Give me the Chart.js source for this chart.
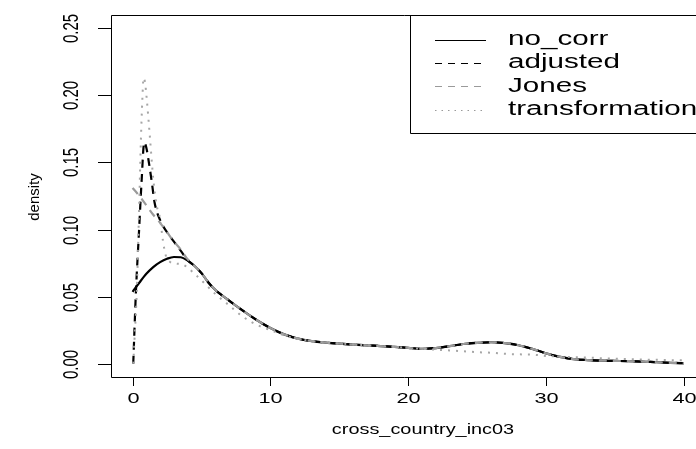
<!DOCTYPE html>
<html>
<head>
<meta charset="utf-8">
<script src="https://cdn.jsdelivr.net/npm/chart.js@4"></script>
<style>
  html, body { margin: 0; padding: 0; background: #fff; }
  #wrap { width: 696px; height: 449px; }
</style>
</head>
<body>
<div id="wrap"><canvas id="myChart"></canvas></div>
<script>
// no_corr
const xGrid = [0, 0.5, 1, 1.5, 2, 2.5, 3, 3.5, 4, 4.5, 5, 5.5, 6, 7, 8, 9, 10, 11, 12, 13, 14, 15, 16, 17, 18, 19, 20,
               21, 22, 23, 24, 25, 26, 27, 28, 29, 30, 31, 32, 33, 34, 35, 36, 37, 38, 39, 40];
const noCorr = [0.0535, 0.0605, 0.067, 0.072, 0.0757, 0.0782, 0.0795, 0.0793, 0.0768, 0.0728, 0.0675, 0.0605, 0.055,
                0.047, 0.0395, 0.0325, 0.0265, 0.0218, 0.0186, 0.0168, 0.0157, 0.0149, 0.0142, 0.0136, 0.0131, 0.0125,
                0.0117, 0.011, 0.0116, 0.013, 0.0146, 0.0155, 0.0159, 0.0153, 0.0137, 0.011, 0.0076, 0.005, 0.0033,
                0.0026, 0.0022, 0.002, 0.0018, 0.0015, 0.001, 0.0006, 0.0003];

// adjusted and Jones differ only near 0, after x = 5 they sit on no_corr
const adjustedHeadX = [0.05, 0.25, 0.45, 0.65, 0.85, 1.0, 1.2, 1.4, 1.6, 2.0, 2.5, 3.0, 3.5, 4.0, 4.5];
const adjustedHeadY = [0.0, 0.055, 0.095, 0.135, 0.165, 0.161, 0.149, 0.135, 0.12, 0.107, 0.098, 0.091, 0.084, 0.077, 0.0728];
const jonesHeadX = [0, 0.5, 1, 1.5, 2, 2.5, 3, 3.5, 3.9, 4.5];
const jonesHeadY = [0.131, 0.125, 0.118, 0.111, 0.105, 0.098, 0.091, 0.085, 0.079, 0.0728];

const transX = [0.05, 0.15, 0.3, 0.45, 0.6, 0.71, 0.8, 0.9, 1.05, 1.25, 1.5, 1.75, 2.0, 2.2, 2.4, 2.7, 3.2, 3.6, 4.6, 6, 7, 8,
                9, 10, 11, 12, 13, 14, 15, 16, 17, 18, 19, 20, 21, 22, 23, 24, 25, 26, 27, 28, 29, 30, 31, 32, 33,
                34, 35, 36, 37, 38, 39, 40];
const transY = [0.0, 0.02, 0.052, 0.105, 0.165, 0.197, 0.213, 0.21, 0.195, 0.17, 0.138, 0.118, 0.108, 0.092, 0.081, 0.076,
                0.0745, 0.074, 0.066, 0.052, 0.0435, 0.035, 0.029, 0.025, 0.021, 0.0185, 0.0168, 0.0157, 0.015, 0.0143,
                0.0137, 0.013, 0.0124, 0.0117, 0.011, 0.0104, 0.0098, 0.0092, 0.0085, 0.0081, 0.0073, 0.0069, 0.0067,
                0.0057, 0.0052, 0.0048, 0.0045, 0.004, 0.0037, 0.0034, 0.003, 0.0028, 0.0026, 0.0024];

const xTicks = [0, 10, 20, 30, 40];
const yTicks = [0, 0.05, 0.10, 0.15, 0.20, 0.25];
const yTickLabels = ['0.00', '0.05', '0.10', '0.15', '0.20', '0.25'];
const seriesNames = ['no_corr', 'adjusted', 'Jones', 'transformation'];

const pts = (xs, ys) => xs.map((x, i) => ({ x: x, y: ys[i] }));
const tail = pts(xGrid, noCorr).filter(p => p.x >= 5);

const FONT = '"Liberation Sans", Arial, Helvetica, sans-serif';

function stretchText(ctx, text, x, y, size, sx, rot) {
  ctx.save();
  ctx.translate(x, y);
  if (rot) ctx.rotate(rot);
  if (rot) ctx.scale(1, sx); else ctx.scale(sx, 1);
  ctx.font = size + 'px ' + FONT;
  ctx.fillText(text, 0, 0);
  ctx.restore();
}

// R style box, axes and legend
const rAxes = {
  id: 'rAxes',
  afterDraw(chart) {
    const ctx = chart.ctx;
    const a = chart.chartArea;
    const xs = chart.scales.x, ys = chart.scales.y;
    ctx.save();
    ctx.strokeStyle = '#000';
    ctx.fillStyle = '#000';
    ctx.lineWidth = 1;

    // box
    ctx.beginPath();
    ctx.moveTo(700, Math.round(a.top) + 0.5);
    ctx.lineTo(Math.round(a.left) + 0.5, Math.round(a.top) + 0.5);
    ctx.lineTo(Math.round(a.left) + 0.5, Math.round(a.bottom) + 0.5);
    ctx.lineTo(700, Math.round(a.bottom) + 0.5);
    ctx.stroke();

    // x axis
    ctx.textAlign = 'center';
    ctx.textBaseline = 'middle';
    xTicks.forEach(t => {
      const px = Math.round(xs.getPixelForValue(t)) + 0.5;
      ctx.beginPath();
      ctx.moveTo(px, Math.round(a.bottom));
      ctx.lineTo(px, Math.round(a.bottom) + 9);
      ctx.stroke();
      stretchText(ctx, String(t), px, 399, 15, 1.45, 0);
    });

    // y axis
    yTicks.forEach((t, i) => {
      const py = Math.round(ys.getPixelForValue(t)) + 0.5;
      ctx.beginPath();
      ctx.moveTo(Math.round(a.left) - 13, py);
      ctx.lineTo(Math.round(a.left), py);
      ctx.stroke();
      stretchText(ctx, yTickLabels[i], 72, py, 15, 1.45, -Math.PI / 2);
    });

    // axis titles
    stretchText(ctx, 'cross_country_inc03', 423, 430, 14, 1.42, 0);
    stretchText(ctx, 'density', 35, 197, 15, 1.0, -Math.PI / 2);

    // legend
    const lx = 410.5, top = 15.5, bottom = 133.5;
    ctx.beginPath();
    ctx.moveTo(700, top);
    ctx.lineTo(lx, top);
    ctx.lineTo(lx, bottom);
    ctx.lineTo(700, bottom);
    ctx.stroke();
    const rows = [39.5, 62.5, 86, 109.5];
    const styles = [
      { c: '#000', d: [] },
      { c: '#000', d: [7, 6] },
      { c: '#9a9a9a', d: [7, 6] },
      { c: '#9a9a9a', d: [1.5, 5] }
    ];
    ctx.textAlign = 'left';
    seriesNames.forEach((name, i) => {
      ctx.beginPath();
      ctx.strokeStyle = styles[i].c;
      ctx.setLineDash(styles[i].d);
      ctx.moveTo(435, Math.round(rows[i]) + 0.5);
      ctx.lineTo(486, Math.round(rows[i]) + 0.5);
      ctx.stroke();
      ctx.setLineDash([]);
      stretchText(ctx, name, 508, rows[i], 20, 1.48, 0);
    });
    ctx.restore();
  }
};

const line = { pointRadius: 0, fill: false, cubicInterpolationMode: 'monotone' };

new Chart(document.getElementById('myChart'), {
  type: 'line',
  data: {
    datasets: [
      Object.assign({ label: seriesNames[0], data: pts(xGrid, noCorr), borderColor: '#000', borderWidth: 2.2, order: 4 }, line),
      Object.assign({ label: seriesNames[1], data: pts(adjustedHeadX, adjustedHeadY).concat(tail), borderColor: '#000',
        borderWidth: 2.2, borderDash: [8, 6], order: 3 }, line),
      Object.assign({ label: seriesNames[2], data: pts(jonesHeadX, jonesHeadY).concat(tail), borderColor: '#9a9a9a',
        borderWidth: 2.2, borderDash: [8, 6], order: 2 }, line),
      Object.assign({ label: seriesNames[3], data: pts(transX, transY), borderColor: '#a6a6a6',
        borderWidth: 2, borderDash: [2, 6], order: 1 }, line)
    ]
  },
  options: {
    responsive: true,
    maintainAspectRatio: false,
    animation: false,
    layout: { padding: { left: 110.5, top: 15, right: 0, bottom: 72 } },
    plugins: { legend: { display: false }, tooltip: { enabled: false } },
    scales: {
      x: { type: 'linear', min: -1.6, max: 40.87, display: false },
      y: { type: 'linear', min: -0.01, max: 0.26, display: false }
    }
  },
  plugins: [rAxes]
});
</script>
</body>
</html>
